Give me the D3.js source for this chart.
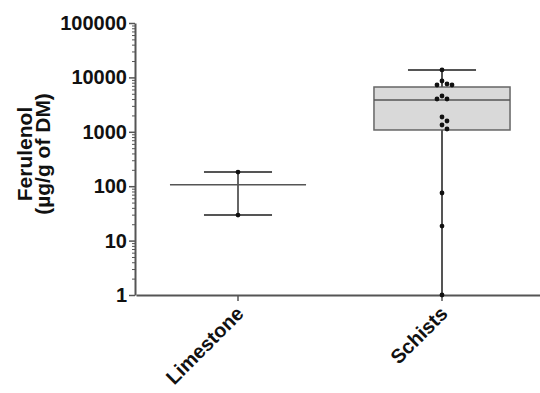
<!DOCTYPE html>
<html>
<head>
<meta charset="utf-8">
<script src="https://cdn.jsdelivr.net/npm/d3@7"></script>
<style>
	body { margin: 0; background: #fff; }
	text { font-family: "Liberation Sans", Arial, sans-serif; font-weight: bold; fill: #111; }
</style>
</head>
<body>
<div id="chart"></div>
<script>
// data
var categories = ["Limestone", "Schists"];
var limestonePoints = [182, 29.5];
var limestoneStats = { min: 29.5, median: 106, max: 182 };
var schistsPoints = [13700, 8590, 7570, 7250, 7250, 4550, 4010, 4010, 1870, 1580, 1334, 1126, 75, 18.5, 1];
var schistsStats = { min: 1, q1: 1080, median: 3840, q3: 6660, max: 13700 };
var yTicks = [1, 10, 100, 1000, 10000, 100000];

var width = 540, height = 393;
var svg = d3.select("#chart")
		.append("svg")
		.attr("width", width)
		.attr("height", height);

//scales
var x = d3.scaleBand().domain(categories).range([136, 544]);
var y = d3.scaleLog().domain([1, 100000]).range([295, 23]);

var axisColor = "#555";
var boxW = x.bandwidth() * 0.667;
var capW = boxW / 2;

//minor ticks
var minor = [];
yTicks.slice(0, -1).forEach(function(t) {
	for (var k = 2; k < 10; k++) minor.push(t * k);
});
svg.append("g")
	.attr("transform", "translate(135,0)")
	.call(d3.axisLeft(y).tickValues(minor).tickSize(3).tickFormat(""))
	.call(function(g) { g.select(".domain").remove(); })
	.selectAll("line").attr("stroke", axisColor).attr("stroke-width", 1);

//y axis
var yAxis = svg.append("g")
	.attr("transform", "translate(135,0)")
	.call(d3.axisLeft(y).tickValues(yTicks).tickFormat(d3.format("d")).tickSize(6).tickSizeOuter(0));
yAxis.select(".domain").attr("stroke", axisColor).attr("stroke-width", 2);
yAxis.selectAll(".tick line").attr("stroke", axisColor).attr("stroke-width", 1.5);
yAxis.selectAll(".tick text")
	.attr("x", -8)
	.style("font-size", "20px")
	.style("font-family", "Liberation Sans, Arial, sans-serif")
	.style("font-weight", "bold")
	.attr("fill", "#111");

//x axis
var xAxis = svg.append("g")
	.attr("transform", "translate(0,295)")
	.call(d3.axisBottom(x).tickSize(6).tickSizeOuter(0));
xAxis.select(".domain").attr("stroke", axisColor).attr("stroke-width", 2);
xAxis.selectAll(".tick line").attr("stroke", axisColor).attr("stroke-width", 1.5);
xAxis.selectAll(".tick text")
	.attr("text-anchor", "end")
	.attr("transform", "translate(2,15) rotate(-45)")
	.attr("x", 0).attr("y", 0).attr("dy", "0.35em")
	.style("font-size", "20px")
	.style("font-family", "Liberation Sans, Arial, sans-serif")
	.style("font-weight", "bold")
	.attr("fill", "#111");

//y label
var yl = svg.append("text")
	.attr("transform", "translate(32,154) rotate(-90)")
	.attr("text-anchor", "middle")
	.style("font-size", "21px");
yl.append("tspan").attr("x", 0).attr("y", 0).style("font-size", "21px").text("Ferulenol");
yl.append("tspan").attr("x", 0).attr("y", 18).style("font-size", "21px").text("(µg/g of DM)");

var g = svg.append("g");

//Schists box
var cs = x("Schists") + x.bandwidth() / 2;
g.append("rect")
	.attr("x", cs - boxW / 2)
	.attr("y", y(schistsStats.q3))
	.attr("width", boxW)
	.attr("height", y(schistsStats.q1) - y(schistsStats.q3))
	.attr("fill", "#d9d9d9")
	.attr("stroke", "#666")
	.attr("stroke-width", 1.5);
g.append("line")
	.attr("x1", cs).attr("x2", cs)
	.attr("y1", y(schistsStats.max)).attr("y2", y(schistsStats.q3))
	.attr("stroke", axisColor).attr("stroke-width", 2);
g.append("line")
	.attr("x1", cs).attr("x2", cs)
	.attr("y1", y(schistsStats.q1)).attr("y2", y(schistsStats.min))
	.attr("stroke", axisColor).attr("stroke-width", 2);
g.append("line")
	.attr("x1", cs - capW / 2).attr("x2", cs + capW / 2)
	.attr("y1", y(schistsStats.max)).attr("y2", y(schistsStats.max))
	.attr("stroke", axisColor).attr("stroke-width", 2);
g.append("line")
	.attr("x1", cs - boxW / 2).attr("x2", cs + boxW / 2)
	.attr("y1", y(schistsStats.median)).attr("y2", y(schistsStats.median))
	.attr("stroke", axisColor).attr("stroke-width", 1.5);

//Limestone
var cl = x("Limestone") + x.bandwidth() / 2;
g.append("line")
	.attr("x1", cl).attr("x2", cl)
	.attr("y1", y(limestoneStats.max)).attr("y2", y(limestoneStats.min))
	.attr("stroke", "#333").attr("stroke-width", 1.5);
[limestoneStats.max, limestoneStats.min].forEach(function(v) {
	g.append("line")
		.attr("x1", cl - capW / 2).attr("x2", cl + capW / 2)
		.attr("y1", y(v)).attr("y2", y(v))
		.attr("stroke", axisColor).attr("stroke-width", 2);
});
g.append("line")
	.attr("x1", cl - boxW / 2).attr("x2", cl + boxW / 2)
	.attr("y1", y(limestoneStats.median)).attr("y2", y(limestoneStats.median))
	.attr("stroke", axisColor).attr("stroke-width", 1.5);

//simple beeswarm
var r = 2.4;
function swarm(values, cx) {
	var placed = [];
	values.slice().sort(function(a, b) { return b - a; }).forEach(function(v) {
		var py = y(v);
		var offs = [0, 5, -5, 10, -10];
		for (var i = 0; i < offs.length; i++) {
			var px = cx + offs[i];
			var ok = placed.every(function(p) {
				return Math.hypot(p.x - px, p.y - py) >= 2 * r + 0.2;
			});
			if (ok) { placed.push({ x: px, y: py }); break; }
		}
	});
	return placed;
}
g.selectAll(".dotL")
	.data(swarm(limestonePoints, cl))
	.enter().append("circle")
	.attr("cx", function(d) { return d.x; })
	.attr("cy", function(d) { return d.y; })
	.attr("r", r).attr("fill", "#111");
g.selectAll(".dotS")
	.data(swarm(schistsPoints, cs))
	.enter().append("circle")
	.attr("cx", function(d) { return d.x; })
	.attr("cy", function(d) { return d.y; })
	.attr("r", r).attr("fill", "#111");
</script>
</body>
</html>
